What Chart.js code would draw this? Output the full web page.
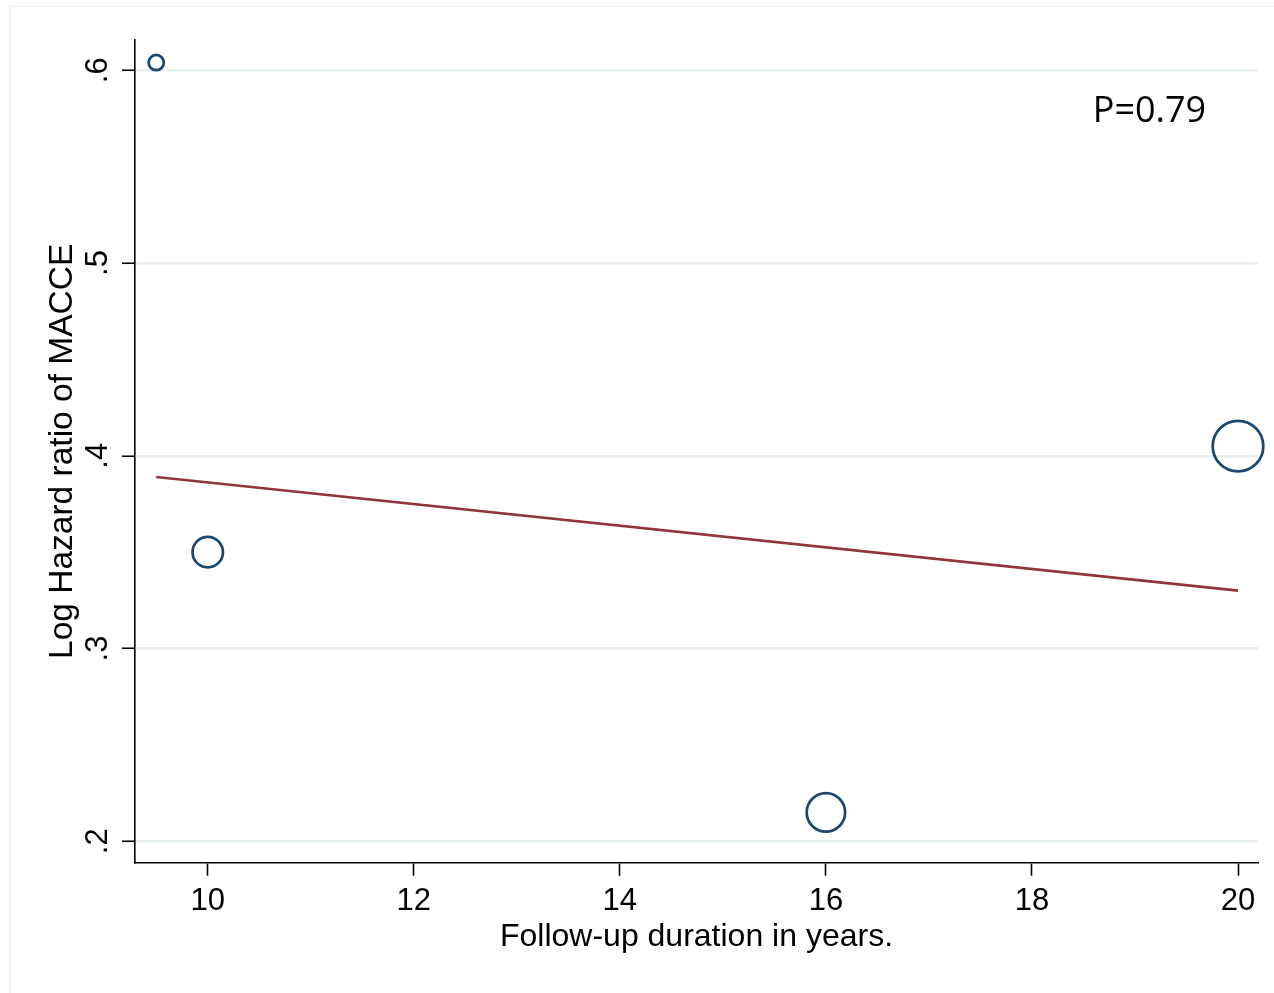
<!DOCTYPE html>
<html>
<head>
<meta charset="utf-8">
<script src="https://cdn.jsdelivr.net/npm/chart.js@4/dist/chart.umd.min.js"></script>
<style>
html, body { margin: 0; padding: 0; background: #fff; }
#wrap { position: relative; width: 1274px; height: 993px; overflow: hidden; }
#frame { position: absolute; left: 9px; top: 6px; right: 0; bottom: 0;
         border-top: 1px solid #e6edf0; border-left: 1px solid #e6edf0; }
canvas { position: absolute; left: 0; top: 0; }
</style>
</head>
<body>
<div id="wrap">
  <div id="frame"></div>
  <canvas id="chart" width="1274" height="993"></canvas>
</div>
<script>
// Study-level data: follow-up (years) vs log hazard ratio of MACCE
const followUpYears   = [9.5, 10, 16, 20];
const logHazardRatio  = [0.604, 0.350, 0.215, 0.405];
// Bubble radius, proportional to study weight
const studyWeight     = [7.6, 15.2, 19.2, 25.3];

// Meta-regression fitted line (end points)
const fitYears  = [9.5, 20];
const fitLogHR  = [0.389, 0.330];

// Axis ticks
const xTicks      = [10, 12, 14, 16, 18, 20];
const xTickLabels = ['10', '12', '14', '16', '18', '20'];
const yTicks      = [0.2, 0.3, 0.4, 0.5, 0.6];
const yTickLabels = ['.2', '.3', '.4', '.5', '.6'];

const pValueText = 'P=0.79';
const pValueAt = { x: 18.59, y: 0.5732 };

const NAVY = '#1a476f';
const MAROON = '#90353b';
const GRID = '#e6eef0';
const FONT = '"Liberation Sans", Arial, Helvetica, sans-serif';

const pValuePlugin = {
  id: 'pValueLabel',
  afterDatasetsDraw(chart) {
    const { ctx, scales: { x, y } } = chart;
    ctx.save();
    ctx.font = '36px "Open Sans", "Noto Sans", sans-serif';
    ctx.fillStyle = '#000';
    ctx.textAlign = 'left';
    ctx.textBaseline = 'alphabetic';
    ctx.fillText(pValueText, x.getPixelForValue(pValueAt.x), y.getPixelForValue(pValueAt.y));
    ctx.restore();
  }
};

new Chart(document.getElementById('chart'), {
  type: 'bubble',
  data: {
    datasets: [
      {
        type: 'bubble',
        data: followUpYears.map((x, i) => ({ x, y: logHazardRatio[i], r: studyWeight[i] })),
        borderColor: NAVY,
        backgroundColor: 'rgba(0,0,0,0)',
        borderWidth: 2.7,
        hoverBorderWidth: 2.7,
        clip: false,
        order: 1
      },
      {
        type: 'line',
        data: fitYears.map((x, i) => ({ x, y: fitLogHR[i] })),
        borderColor: MAROON,
        borderWidth: 2.7,
        pointRadius: 0,
        showLine: true,
        fill: false,
        tension: 0,
        order: 2
      }
    ]
  },
  options: {
    responsive: false,
    animation: false,
    events: [],
    layout: { autoPadding: false, padding: { left: 0, top: 40, right: 16, bottom: 0 } },
    plugins: { legend: { display: false }, tooltip: { enabled: false } },
    scales: {
      x: {
        type: 'linear',
        position: 'bottom',
        min: 9.294,
        max: 20.194,
        afterBuildTicks: s => { s.ticks = xTicks.map(v => ({ value: v })); },
        afterFit: s => { s.height = 130.3; s.paddingLeft = 0; s.paddingRight = 0; },
        grid: { drawOnChartArea: false, drawTicks: true, tickLength: 13, tickColor: '#000', tickWidth: 1.6 },
        border: { display: true, color: '#000', width: 1.6 },
        ticks: {
          color: '#000',
          font: { family: FONT, size: 31 },
          padding: 7,
          minRotation: 0,
          maxRotation: 0,
          autoSkip: false,
          callback: v => xTickLabels[xTicks.indexOf(v)]
        },
        title: {
          display: true,
          text: 'Follow-up duration in years.',
          color: '#000',
          font: { family: FONT, size: 32 },
          padding: { top: 0, bottom: 37 }
        }
      },
      y: {
        type: 'linear',
        position: 'left',
        min: 0.1889,
        max: 0.6157,
        afterBuildTicks: s => { s.ticks = yTicks.map(v => ({ value: v })); },
        afterFit: s => { s.width = 135; s.paddingTop = 0; s.paddingBottom = 0; },
        grid: { color: GRID, lineWidth: 2.5, drawTicks: true, tickLength: 13, tickColor: '#000', tickWidth: 1.6 },
        border: { display: true, color: '#000', width: 1.6 },
        ticks: {
          color: '#000',
          font: { family: FONT, size: 31 },
          padding: 11,
          minRotation: 90,
          maxRotation: 90,
          crossAlign: 'center',
          autoSkip: false,
          callback: v => yTickLabels[yTicks.indexOf(v)]
        },
        title: {
          display: true,
          text: 'Log Hazard ratio of MACCE',
          color: '#000',
          font: { family: FONT, size: 33.5 },
          padding: { top: 43, bottom: 0 }
        }
      }
    }
  },
  plugins: [pValuePlugin]
});
</script>
</body>
</html>
